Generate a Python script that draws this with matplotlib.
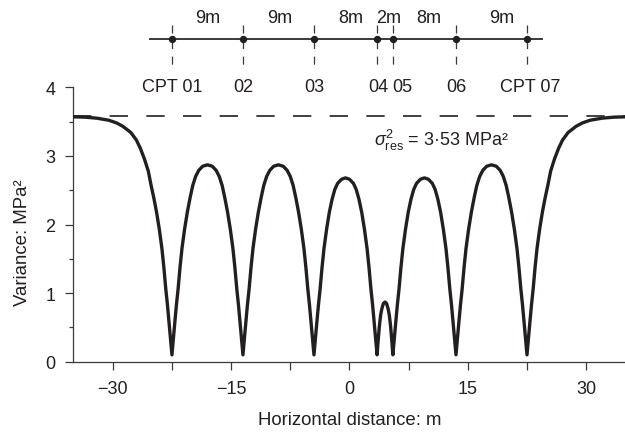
"""
Kriging variance along a line of CPTs
"""

import matplotlib
matplotlib.use('Agg')
import matplotlib.pyplot as plt

plt.rcParams['font.family'] = ['Liberation Sans', 'DejaVu Sans']
plt.rcParams['mathtext.fontset'] = 'custom'
plt.rcParams['mathtext.rm'] = 'Liberation Sans'
plt.rcParams['mathtext.it'] = 'Liberation Sans:italic'
plt.rcParams['lines.scale_dashes'] = False

INK = '#231f20'
AXC = '#3a3a3a'

# CPT layout (m)
cpt_x = [-22.5, -13.5, -4.5, 3.5, 5.5, 13.5, 22.5]
cpt_names = ['CPT 01', '02', '03', '04', '05', '06', 'CPT 07']
spacing_labels = ['9m', '9m', '8m', '2m', '8m', '9m']
sill_level = 3.575
sill_text = r'$\sigma^2_{\mathrm{res}}$ = 3·53 MPa²'

# variance curve
tail_left_x = [-35.0, -33.5, -32.0, -30.5, -29.5, -28.7, -27.7, -27.0, -26.5, -26.0, -25.5,
               -25.14, -24.8, -24.45, -24.1, -23.77, -23.52, -23.28, -23.07, -22.87, -22.68, -22.5]
tail_left_y = [3.57, 3.565, 3.55, 3.52, 3.48, 3.43, 3.34, 3.23, 3.11, 2.96, 2.78,
               2.57, 2.39, 2.18, 1.93, 1.65, 1.37, 1.06, 0.83, 0.58, 0.34, 0.10]

arch_01_02_x = [-22.32, -22.13, -21.93, -21.72, -21.48, -21.23, -20.9, -20.55, -20.2, -19.86,
                -19.5, -19.1, -18.6, -18.0, -17.4, -16.9, -16.5, -16.14, -15.8, -15.45,
                -15.1, -14.77, -14.52, -14.28, -14.07, -13.87, -13.68, -13.5]
arch_9m_y = [0.34, 0.58, 0.83, 1.06, 1.37, 1.65, 1.93, 2.18, 2.39, 2.57,
             2.70, 2.79, 2.85, 2.87, 2.85, 2.79, 2.70, 2.57, 2.39, 2.18,
             1.93, 1.65, 1.37, 1.06, 0.83, 0.58, 0.34, 0.10]

arch_02_03_x = [-13.32, -13.13, -12.93, -12.72, -12.48, -12.23, -11.9, -11.55, -11.2, -10.86,
                -10.5, -10.1, -9.6, -9.0, -8.4, -7.9, -7.5, -7.14, -6.8, -6.45,
                -6.1, -5.77, -5.52, -5.28, -5.07, -4.87, -4.68, -4.5]

arch_03_04_x = [-4.32, -4.13, -3.93, -3.72, -3.48, -3.23, -2.9, -2.55, -2.2, -1.86, -1.5, -1.0,
                -0.5, 0.0, 0.5, 0.86, 1.2, 1.55, 1.9, 2.23, 2.48, 2.72, 2.93, 3.13, 3.32, 3.5]
arch_8m_y = [0.34, 0.58, 0.83, 1.06, 1.37, 1.65, 1.93, 2.18, 2.37, 2.51, 2.60, 2.66,
             2.68, 2.66, 2.60, 2.51, 2.37, 2.18, 1.93, 1.65, 1.37, 1.06, 0.83, 0.58, 0.34, 0.10]

arch_04_05_x = [3.65, 3.8, 3.95, 4.1, 4.3, 4.5, 4.7, 4.9, 5.05, 5.2, 5.35, 5.5]
arch_04_05_y = [0.33, 0.53, 0.68, 0.77, 0.85, 0.87, 0.85, 0.77, 0.68, 0.53, 0.33, 0.10]

arch_05_06_x = [5.68, 5.87, 6.07, 6.28, 6.52, 6.77, 7.1, 7.45, 7.8, 8.14, 8.5, 9.0,
                9.5, 10.0, 10.5, 10.86, 11.2, 11.55, 11.9, 12.23, 12.48, 12.72, 12.93, 13.13, 13.32, 13.5]

arch_06_07_x = [13.68, 13.87, 14.07, 14.28, 14.52, 14.77, 15.1, 15.45, 15.8, 16.14,
                16.5, 16.9, 17.4, 18.0, 18.6, 19.1, 19.5, 19.86, 20.2, 20.55,
                20.9, 21.23, 21.48, 21.72, 21.93, 22.13, 22.32, 22.5]

tail_right_x = [22.68, 22.87, 23.07, 23.28, 23.52, 23.77, 24.1, 24.45, 24.8, 25.14, 25.5,
                26.0, 26.5, 27.0, 27.7, 28.7, 29.5, 30.5, 32.0, 33.5, 35.0]
tail_right_y = [0.34, 0.58, 0.83, 1.06, 1.37, 1.65, 1.93, 2.18, 2.39, 2.57, 2.78,
                2.96, 3.11, 3.23, 3.34, 3.43, 3.48, 3.52, 3.55, 3.565, 3.57]

curve_x = (tail_left_x + arch_01_02_x + arch_02_03_x + arch_03_04_x
           + arch_04_05_x + arch_05_06_x + arch_06_07_x + tail_right_x)
curve_y = (tail_left_y + arch_9m_y + arch_9m_y + arch_8m_y
           + arch_04_05_y + arch_8m_y + arch_9m_y + tail_right_y)

fig = plt.figure(figsize=(6.25, 4.39), dpi=100)
ax = fig.add_axes([0.1173, 0.1738, 0.8837, 0.625])

# residual variance level
ax.plot([-35, 35], [sill_level, sill_level], color=INK, lw=1.2,
        linestyle=(0, (13.2, 13.2)), zorder=2)
ax.plot(curve_x, curve_y, color=INK, lw=2.4, solid_joinstyle='round', zorder=3)
ax.text(3.1, 3.16, sill_text, fontsize=13, color=INK, ha='left', va='baseline')

# CPT layout sketch above the axes
line_y, dash_top, dash_bot = 4.703, 4.912, 4.24
ax.plot([-25.3, 24.4], [line_y, line_y], color=AXC, lw=1.4, clip_on=False)
for x in cpt_x:
    ax.plot([x, x], [dash_top, dash_bot], color=AXC, lw=0.9,
            linestyle=(0, (5.8, 5.4)), clip_on=False)
ax.plot(cpt_x, [line_y] * len(cpt_x), 'o', color=INK, ms=4.3, clip_on=False, zorder=5)

name_shift = [0.1, 0.0, 0.0, 0.1, 1.2, 0.05, 0.4]
for x, name, dx in zip(cpt_x, cpt_names, name_shift):
    ax.text(x + dx, 3.94, name, fontsize=13, color=INK, ha='center', va='baseline')

gap_shift = [0.0, 0.1, 0.6, 0.4, 0.6, 1.3]
for i, lab in enumerate(spacing_labels):
    mid = (cpt_x[i] + cpt_x[i + 1]) / 2
    ax.text(mid + gap_shift[i], 4.95, lab, fontsize=13, color=INK, ha='center', va='baseline')

# axes styling
ax.set_xlim(-35, 35)
ax.set_ylim(0, 4)
ax.spines['top'].set_visible(False)
ax.spines['right'].set_visible(False)
for s in ['left', 'bottom']:
    ax.spines[s].set_color(AXC)
    ax.spines[s].set_linewidth(0.9)

ax.set_xticks([-30, -15, 0, 15, 30])
ax.set_xticks([-22.5, -7.5, 7.5, 22.5], minor=True)
ax.set_yticks([0, 1, 2, 3, 4])
ax.set_yticks([0.5, 1.5, 2.5, 3.5], minor=True)
ax.tick_params(axis='x', which='both', length=6, width=0.9, color=AXC,
               labelsize=13, labelcolor=INK, pad=7)
ax.tick_params(axis='y', which='major', length=6, width=0.9, color=AXC,
               labelsize=13, labelcolor=INK, pad=7)
ax.tick_params(axis='y', which='minor', length=3, width=0.9, color=AXC)

ax.set_xlabel('Horizontal distance: m', fontsize=13.4, color=INK)
ax.set_ylabel('Variance: MPa²', fontsize=13.4, color=INK)
ax.xaxis.set_label_coords(0.5, -0.18)
ax.yaxis.set_label_coords(-0.0766, 0.436)

fig.savefig('out.png', dpi=100)
